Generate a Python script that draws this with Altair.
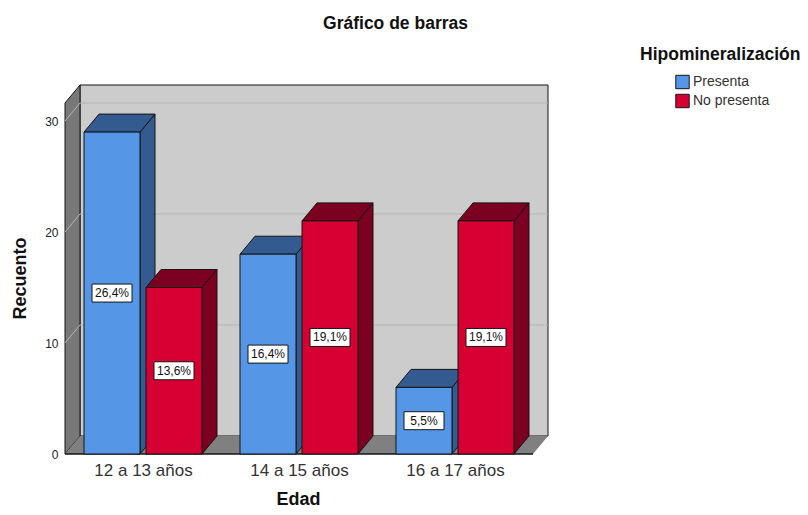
import altair as alt
import pandas as pd

categories = ["12 a 13 años", "14 a 15 años", "16 a 17 años"]
series = ["Presenta", "No presenta"]
presenta = [29, 18, 6]
no_presenta = [15, 21, 21]
pct_presenta = ["26,4%", "16,4%", "5,5%"]
pct_no_presenta = ["13,6%", "19,1%", "19,1%"]
y_ticks = [0, 10, 20, 30]

PX_CAT = 156.0   # px per category
PX_VAL = 11.1    # px per count
DX = 15 / PX_CAT
DY = 18 / PX_VAL
BAR = 56 / PX_CAT
GAP = 6 / PX_CAT
W, H = 483, 369
XMAX = W / PX_CAT
YMAX = H / PX_VAL
NCAT = len(categories)
WALL_TOP = YMAX

FRONT = {"Presenta": "#5596e6", "No presenta": "#d60032"}
DARK = {"Presenta": "#335b8f", "No presenta": "#7c0020"}
EDGE = "#151515"

rows = []
for i, c in enumerate(categories):
    for s, vals, pcts in ((0, presenta, pct_presenta), (1, no_presenta, pct_no_presenta)):
        x0 = i + 0.5 - BAR - GAP / 2 if s == 0 else i + 0.5 + GAP / 2
        rows.append(dict(bar=f"{i}-{s}", serie=series[s], v=vals[i], pct=pcts[i],
                         x0=x0, x1=x0 + BAR, xc=x0 + BAR / 2, mid=vals[i] / 2))
bars = pd.DataFrame(rows)

side, top = [], []
for r in rows:
    side += [dict(bar=r["bar"], serie=r["serie"], x=r["x1"], y=0, y2=r["v"]),
             dict(bar=r["bar"], serie=r["serie"], x=r["x1"] + DX, y=DY, y2=r["v"] + DY)]
    top += [dict(bar=r["bar"], serie=r["serie"], y=r["v"], x=r["x0"], x2=r["x1"]),
            dict(bar=r["bar"], serie=r["serie"], y=r["v"] + DY, x=r["x0"] + DX, x2=r["x1"] + DX)]
side = pd.DataFrame(side)
top = pd.DataFrame(top)

xs = alt.Scale(domain=[0, XMAX], nice=False, zero=False)
ys = alt.Scale(domain=[0, YMAX], nice=False, zero=False)
dark_scale = alt.Scale(domain=list(DARK), range=list(DARK.values()))
label_expr = "[" + ",".join(f"'{c}'" for c in categories) + "][round(datum.value-0.5)]"

x_axis = alt.Axis(
    values=[i + 0.5 for i in range(NCAT)], labelExpr=label_expr, grid=False, domain=False,
    ticks=False, labelFontSize=17, labelColor="#333333", labelFont="Liberation Sans",
    labelPadding=8, labelFontWeight="normal", titleFont="Liberation Sans", titleFontSize=18,
    titleFontWeight="bold", titleColor="#111111", titleX=233, titleY=36)
y_axis = alt.Axis(
    values=y_ticks, grid=False, domain=False, ticks=False, labelFontSize=12,
    labelColor="#222222", labelFont="Liberation Sans", labelPadding=7,
    titleFont="Liberation Sans", titleFontSize=18, titleFontWeight="bold",
    titleColor="#111111", titleX=-36, titleY=193)


def X(field, **kw):
    return alt.X(field, scale=xs, axis=x_axis, title="Edad", **kw)


def Y(field, **kw):
    return alt.Y(field, scale=ys, axis=y_axis, title="Recuento", **kw)


wall = alt.Chart(pd.DataFrame([dict(x0=DX, x1=XMAX, y0=DY, y1=WALL_TOP)])).mark_rect(
    color="#cccccc", stroke=EDGE, strokeWidth=1
).encode(x=X("x0:Q"), x2="x1:Q", y=Y("y0:Q"), y2="y1:Q")

left_wall = alt.Chart(pd.DataFrame([dict(x=0, y=0, y2=WALL_TOP - DY), dict(x=DX, y=DY, y2=WALL_TOP)])).mark_area(
    color="#787878", stroke=EDGE, strokeWidth=1
).encode(x=X("x:Q"), y=Y("y:Q", stack=None), y2="y2:Q")

floor = alt.Chart(pd.DataFrame([dict(y=0, x=0, x2=XMAX - DX), dict(y=DY, x=DX, x2=XMAX)])).mark_area(
    color="#808080", orient="horizontal"
).encode(y=Y("y:Q"), x=X("x:Q", stack=None), x2="x2:Q")

base_line = alt.Chart(pd.DataFrame([dict(x=0, y=0), dict(x=XMAX - DX, y=0)])).mark_line(
    color=EDGE, strokeWidth=1.5
).encode(x=X("x:Q"), y=Y("y:Q"))

grid = pd.DataFrame(
    [dict(t=t, x=0, y=t) for t in y_ticks[1:]] +
    [dict(t=t, x=DX, y=t + DY) for t in y_ticks[1:]] +
    [dict(t=t, x=XMAX, y=t + DY) for t in y_ticks[1:]]
)
grid_lines = alt.Chart(grid).mark_line(color="#b4b4b4", strokeWidth=1).encode(
    x=X("x:Q"), y=Y("y:Q"), detail="t:N")

sides = alt.Chart(side).mark_area(stroke=EDGE, strokeWidth=1).encode(
    x=X("x:Q"), y=Y("y:Q", stack=None), y2="y2:Q",
    fill=alt.Fill("serie:N", scale=dark_scale, legend=None), detail="bar:N")

tops = alt.Chart(top).mark_area(stroke=EDGE, strokeWidth=1, orient="horizontal").encode(
    y=Y("y:Q"), x=X("x:Q", stack=None), x2="x2:Q",
    fill=alt.Fill("serie:N", scale=dark_scale, legend=None), detail="bar:N")

fronts = alt.Chart(bars).mark_rect(stroke=EDGE, strokeWidth=1).encode(
    x=X("x0:Q"), x2="x1:Q",
    y=Y("v:Q"), y2=alt.Y2(datum=0),
    color=alt.Color("serie:N", scale=alt.Scale(domain=series, range=[FRONT[s] for s in series]),
                    legend=alt.Legend(
                        orient="none", legendX=575, legendY=-39, title="Hipomineralización",
                        titleFont="Liberation Sans", titleFontSize=17.5, titleFontWeight="bold",
                        titleColor="#111111", titleLimit=300, titlePadding=11,
                        labelFont="Liberation Sans", labelFontSize=14, labelColor="#333333",
                        symbolType="square", symbolSize=180, symbolStrokeColor=EDGE,
                        symbolStrokeWidth=1, symbolOpacity=1, symbolOffset=35, labelOffset=3,
                        rowPadding=0)),
)

boxes = alt.Chart(bars).mark_rect(width=40, height=18, color="white", stroke=EDGE, strokeWidth=1).encode(
    x=X("xc:Q"), y=Y("mid:Q"))
labels = alt.Chart(bars).mark_text(font="Liberation Sans", fontSize=12, color="#111111").encode(
    x=X("xc:Q"), y=Y("mid:Q"), text="pct:N")

chart = alt.layer(wall, left_wall, floor, grid_lines, base_line, sides, tops, fronts, boxes, labels).resolve_scale(
    color="independent", fill="independent"
).properties(
    width=W, height=H,
    padding={"left": 57, "top": 77, "right": 252, "bottom": 53},
    autosize=alt.AutoSizeParams(type="none"),
    title=alt.TitleParams("Gráfico de barras", anchor="middle", frame="group", dx=89, offset=14,
                          font="Liberation Sans", fontSize=17.5, fontWeight="bold", color="#111111"),
).configure_view(stroke=None)

chart.save("out.html", embed_options={"renderer": "svg", "actions": False})
